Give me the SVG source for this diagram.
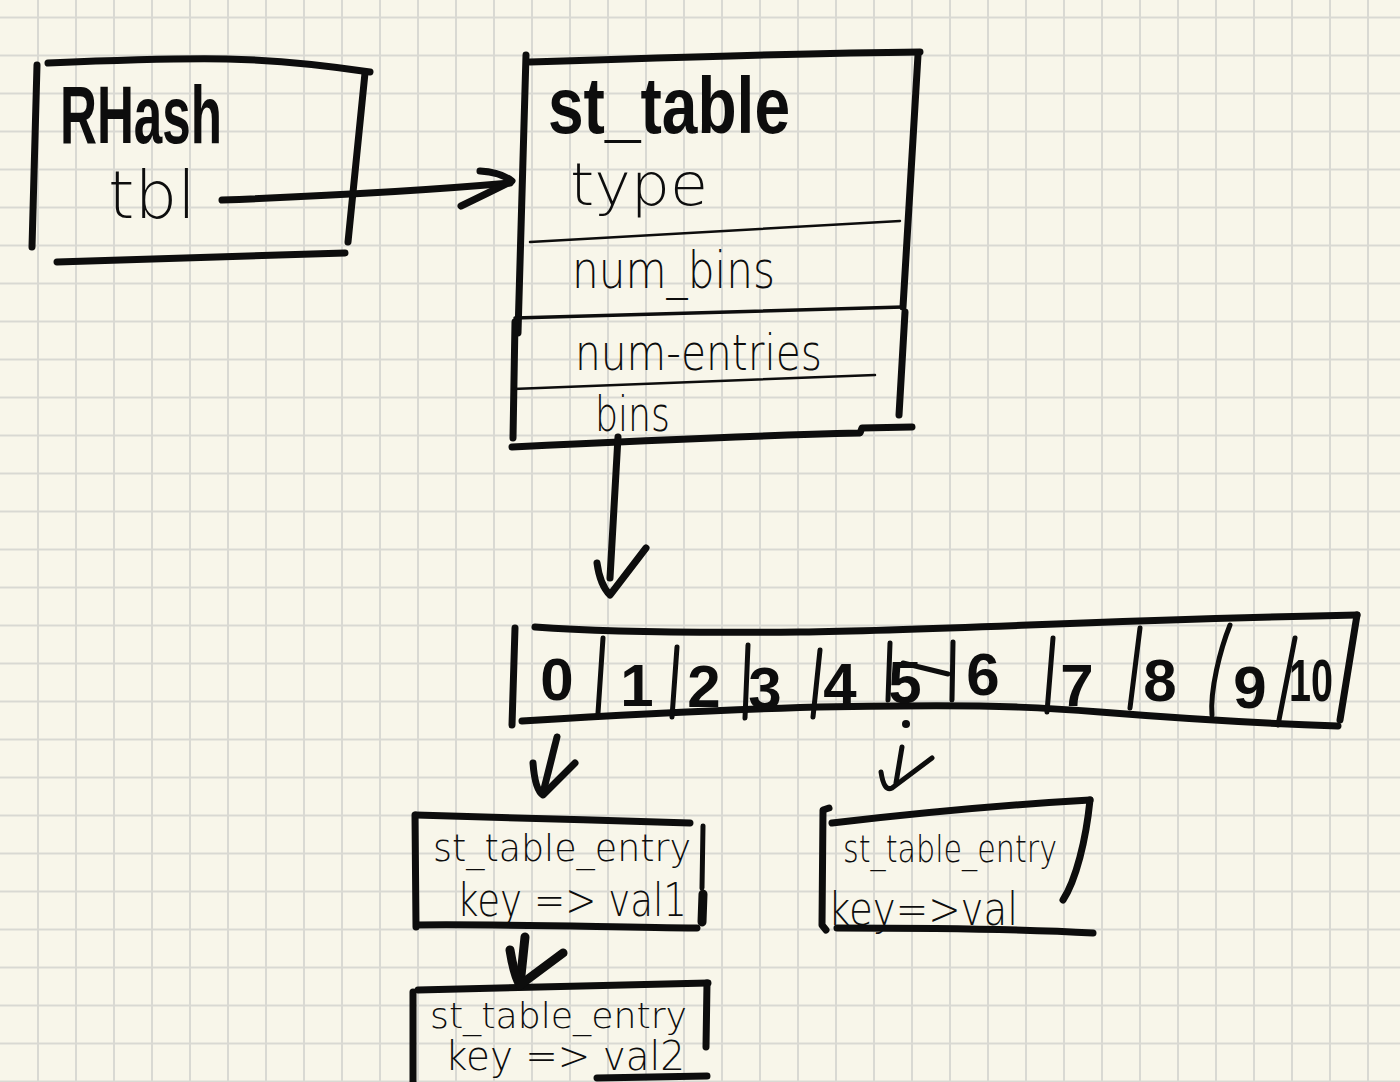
<svg xmlns="http://www.w3.org/2000/svg" width="1400" height="1082" viewBox="0 0 1400 1082">
<defs>
<style>
.grid{fill:none;stroke:#d9d9d3;stroke-width:2}
.ink{fill:none;stroke:#0d0d0d;stroke-linecap:round;stroke-linejoin:round}
.thick{stroke-width:7}
.med{stroke-width:5}
.thin{stroke-width:2.5}
.hand{font-family:"DejaVu Sans","Liberation Sans",sans-serif;font-weight:200;fill:#0d0d0d}
.bold{font-family:"Liberation Sans","DejaVu Sans",sans-serif;font-weight:700;fill:#0d0d0d}
.digit{font-family:"Liberation Sans","DejaVu Sans",sans-serif;font-weight:700;fill:#0d0d0d;font-size:60px;text-anchor:middle}
</style>
</defs>
<rect width="1400" height="1082" fill="#f8f6ea"/>
<path class="grid" d="M38 0V1082M76 0V1082M114 0V1082M152 0V1082M190 0V1082M228 0V1082M266 0V1082M304 0V1082M342 0V1082M380 0V1082M418 0V1082M456 0V1082M494 0V1082M532 0V1082M570 0V1082M608 0V1082M646 0V1082M684 0V1082M722 0V1082M760 0V1082M798 0V1082M836 0V1082M874 0V1082M912 0V1082M950 0V1082M988 0V1082M1026 0V1082M1064 0V1082M1102 0V1082M1140 0V1082M1178 0V1082M1216 0V1082M1254 0V1082M1292 0V1082M1330 0V1082M1368 0V1082M0 17.5H1400M0 55.5H1400M0 93.5H1400M0 131.5H1400M0 169.5H1400M0 207.5H1400M0 245.5H1400M0 283.5H1400M0 321.5H1400M0 359.5H1400M0 397.5H1400M0 435.5H1400M0 473.5H1400M0 511.5H1400M0 549.5H1400M0 587.5H1400M0 625.5H1400M0 663.5H1400M0 701.5H1400M0 739.5H1400M0 777.5H1400M0 815.5H1400M0 853.5H1400M0 891.5H1400M0 929.5H1400M0 967.5H1400M0 1005.5H1400M0 1043.5H1400M0 1081.5H1400"/>

<g id="rhash">
<path class="ink thick" d="M37 65 L32 247"/>
<path class="ink thick" d="M48 63 C120 60 180 58 227 59 C280 60 330 66 370 72"/>
<path class="ink thick" d="M365 73 L348 242"/>
<path class="ink thick" d="M57 262 C150 259 250 256 345 253"/>
<text class="bold" x="60" y="143" font-size="82" textLength="162" lengthAdjust="spacingAndGlyphs">RHash</text>
<text class="hand" x="108" y="218" font-size="66" textLength="88" lengthAdjust="spacingAndGlyphs">tbl</text>
</g>

<g id="st_table">
<path class="ink thick" d="M530 62 C650 58 800 53 920 52"/>
<path class="ink thick" d="M526 55 L518 333"/>
<path class="ink thick" d="M515 322 L513 438"/>
<path class="ink thick" d="M918 55 L903 307"/>
<path class="ink thick" d="M905 312 L899 415"/>
<path class="ink thick" d="M512 447 C650 440 780 435 860 433 L862 428 L912 427"/>
<path class="ink thin" d="M530 242 L900 221"/>
<path class="ink" style="stroke-width:3.5" d="M515 318 L903 307"/>
<path class="ink thin" d="M513 389 L875 375"/>
<text class="bold" x="548" y="133" font-size="80" textLength="242" lengthAdjust="spacingAndGlyphs">st_table</text>
<text class="hand" x="570" y="205" font-size="58" textLength="138" lengthAdjust="spacingAndGlyphs">type</text>
<text class="hand" x="572" y="288" font-size="52" textLength="203" lengthAdjust="spacingAndGlyphs">num_bins</text>
<text class="hand" x="575" y="370" font-size="50" textLength="247" lengthAdjust="spacingAndGlyphs">num-entries</text>
<text class="hand" x="595" y="431" font-size="48" textLength="75" lengthAdjust="spacingAndGlyphs">bins</text>
</g>

<g id="bins_array">
<path class="ink thick" d="M515 628 L512 725"/>
<path class="ink thick" d="M535 627 C600 632 700 633 800 632 C950 630 1100 620 1357 615"/>
<path class="ink thick" d="M1357 615 L1340 720"/>
<path class="ink thick" d="M522 721 C650 713 800 706 900 706 C1000 705 1050 708 1100 712 C1200 720 1280 724 1338 726"/>
<path class="ink med" d="M603 638 L598 713"/>
<path class="ink med" d="M677 647 L672 717"/>
<path class="ink med" d="M748 645 L745 718"/>
<path class="ink med" d="M820 650 L813 717"/>
<path class="ink med" d="M890 643 L888 700"/>
<path class="ink med" d="M953 642 L952 700"/>
<path class="ink med" d="M1053 638 L1047 712"/>
<path class="ink med" d="M1140 628 L1130 708"/>
<path class="ink med" d="M1230 625 C1220 650 1210 690 1212 715"/>
<path class="ink med" d="M1295 638 L1278 725"/>
<path class="ink med" d="M903 663 L948 674"/>
<text class="digit" x="557" y="700">0</text>
<text class="digit" x="637" y="706">1</text>
<text class="digit" x="704" y="707">2</text>
<text class="digit" x="765" y="709">3</text>
<text class="digit" x="840" y="705">4</text>
<text class="digit" x="905" y="703">5</text>
<text class="digit" x="983" y="695">6</text>
<text class="digit" x="1077" y="706">7</text>
<text class="digit" x="1160" y="701">8</text>
<text class="digit" x="1250" y="708">9</text>
<text class="digit" x="1311" y="701" textLength="44" lengthAdjust="spacingAndGlyphs">10</text>
</g>

<g id="entry1">
<path class="ink thick" d="M415 815 L416 927"/>
<path class="ink thick" d="M416 815 C500 818 600 820 690 823"/>
<path class="ink med" d="M703 826 L702 888"/>
<path class="ink thick" style="stroke-width:9" d="M703 894 L702 922"/>
<path class="ink thick" d="M417 925 C500 924 600 927 697 928"/>
<text class="hand" x="433" y="861" font-size="38" textLength="258" lengthAdjust="spacingAndGlyphs">st_table_entry</text>
<text class="hand" x="457" y="916" font-size="46" textLength="230" lengthAdjust="spacingAndGlyphs">key =&gt; val1</text>
</g>

<g id="entry2">
<path class="ink thick" d="M413 992 L413 1082"/>
<path class="ink thick" d="M418 990 C520 988 620 985 708 983"/>
<path class="ink thick" d="M707 983 L706 1047"/>
<path class="ink thick" d="M597 1078 L707 1076"/>
<text class="hand" x="430" y="1028" font-size="36" textLength="257" lengthAdjust="spacingAndGlyphs">st_table_entry</text>
<text class="hand" x="445" y="1070" font-size="40" textLength="240" lengthAdjust="spacingAndGlyphs">key =&gt; val2</text>
</g>

<g id="entry3">
<path class="ink thick" d="M829 808 L823 810 L822 925 L826 930"/>
<path class="ink thick" d="M832 823 C900 815 1000 805 1090 800"/>
<path class="ink thick" d="M1090 800 C1086 840 1076 880 1063 900"/>
<path class="ink thick" d="M837 928 C950 928 1040 930 1093 933"/>
<text class="hand" x="843" y="862" font-size="38" textLength="214" lengthAdjust="spacingAndGlyphs">st_table_entry</text>
<text class="hand" x="828" y="925" font-size="46" textLength="190" lengthAdjust="spacingAndGlyphs">key=&gt;val</text>
</g>

<g id="connectors">
<path class="ink thick" d="M222 200 C300 197 420 191 510 183"/>
<path class="ink thick" d="M480 171 Q500 172 512 181 Q490 192 461 206"/>
<path class="ink thick" d="M618 437 L610 578"/>
<path class="ink thick" d="M597 563 Q600 585 610 595 L646 548"/>
<path class="ink thick" d="M557 737 L543 793"/>
<path class="ink thick" d="M533 763 Q535 790 543 795 L575 763"/>
<circle cx="906" cy="724" r="4" fill="#0d0d0d"/>
<path class="ink med" d="M902 747 L896 783"/>
<path class="ink med" d="M881 772 Q884 792 892 788 L932 758"/>
<path class="ink thick" style="stroke-width:9" d="M525 937 L520 985"/>
<path class="ink thick" style="stroke-width:9" d="M510 950 Q514 975 520 985 L563 953"/>
</g>
</svg>
